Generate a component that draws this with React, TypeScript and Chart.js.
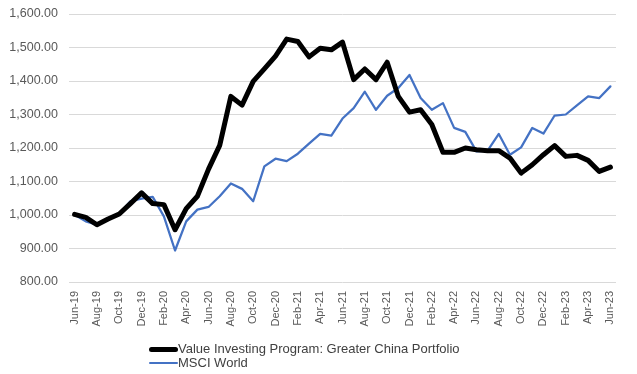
import React, { useEffect, useRef } from "react";
import { Chart, registerables } from "chart.js";

Chart.register(...registerables);

const months: string[] = [
  "Jun-19","Jul-19","Aug-19","Sep-19","Oct-19","Nov-19","Dec-19",
  "Jan-20","Feb-20","Mar-20","Apr-20","May-20","Jun-20","Jul-20","Aug-20","Sep-20","Oct-20","Nov-20","Dec-20",
  "Jan-21","Feb-21","Mar-21","Apr-21","May-21","Jun-21","Jul-21","Aug-21","Sep-21","Oct-21","Nov-21","Dec-21",
  "Jan-22","Feb-22","Mar-22","Apr-22","May-22","Jun-22","Jul-22","Aug-22","Sep-22","Oct-22","Nov-22","Dec-22",
  "Jan-23","Feb-23","Mar-23","Apr-23","May-23","Jun-23",
];

const portfolioLabel = "Value Investing Program: Greater China Portfolio";
const portfolio: number[] = [
  1002, 993, 971, 988, 1003, 1034, 1066,
  1034, 1031, 956, 1019, 1056, 1137, 1208, 1354, 1328, 1399, 1436, 1474,
  1525, 1518, 1472, 1498, 1493, 1516, 1404, 1436, 1404, 1456, 1354, 1307,
  1314, 1270, 1187, 1187, 1200, 1195, 1192, 1192, 1170, 1125, 1150, 1180,
  1207, 1175, 1178, 1163, 1130, 1143,
];

const msciLabel = "MSCI World";
const msci: number[] = [
  1001, 981, 971, 986, 1003, 1041, 1049,
  1054, 996, 894, 981, 1016, 1024, 1056, 1094, 1078, 1041, 1145, 1168,
  1161, 1183, 1213, 1242, 1237, 1288, 1319, 1368, 1314, 1356, 1379, 1418,
  1349, 1314, 1334, 1260, 1248, 1190, 1192, 1242, 1180, 1202, 1260, 1243,
  1297, 1300, 1327, 1354, 1349, 1384,
];

const yMin = 800;
const yMax = 1600;
const yStep = 100;

export default function App() {
  const ref = useRef<HTMLCanvasElement | null>(null);

  useEffect(() => {
    if (!ref.current) return;
    const chart = new Chart(ref.current, {
      type: "line",
      data: {
        labels: months,
        datasets: [
          {
            label: portfolioLabel,
            data: portfolio,
            borderColor: "#000000",
            backgroundColor: "#000000",
            borderWidth: 5,
            pointRadius: 0,
            tension: 0,
            borderJoinStyle: "round",
            borderCapStyle: "round",
          },
          {
            label: msciLabel,
            data: msci,
            borderColor: "#4472C4",
            backgroundColor: "#4472C4",
            borderWidth: 2.25,
            pointRadius: 0,
            tension: 0,
            borderJoinStyle: "round",
            borderCapStyle: "round",
          },
        ],
      },
      options: {
        animation: false,
        responsive: false,
        maintainAspectRatio: false,
        layout: { padding: { left: 0, right: 21, top: 14, bottom: 0 } },
        plugins: {
          legend: { display: false },
          tooltip: { enabled: false },
        },
        scales: {
          x: {
            offset: true,
            grid: { display: false, drawTicks: false },
            border: { display: false },
            ticks: {
              autoSkip: false,
              maxRotation: 90,
              minRotation: 90,
              padding: 9,
              color: "#595959",
              font: { family: '"Liberation Sans"', size: 11 },
              callback: (_v: any, i: number) => (i % 2 === 0 ? months[i] : ""),
            },
            afterFit: (s: any) => {
              s.height = 92;
              s.paddingLeft = 0;
              s.paddingRight = 0;
            },
          },
          y: {
            min: yMin,
            max: yMax,
            grid: { color: "#d9d9d9", lineWidth: 1, drawTicks: false },
            border: { display: false },
            ticks: {
              stepSize: yStep,
              padding: 11,
              color: "#595959",
              font: { family: '"Liberation Sans"', size: 12.5 },
              callback: (v: any) =>
                Number(v).toLocaleString("en-US", { minimumFractionDigits: 2, maximumFractionDigits: 2 }),
            },
            afterFit: (s: any) => {
              s.width = 69;
              s.paddingTop = 0;
              s.paddingBottom = 0;
            },
          },
        },
      },
    });
    return () => chart.destroy();
  }, []);

  const legendItem = (color: string, h: number, text: string, top: number) => (
    <div style={{ position: "absolute", left: 149, top, height: 14, display: "flex", alignItems: "center" }}>
      <div style={{ width: 29, height: h, background: color, borderRadius: h / 2 }} />
      <span style={{ fontFamily: '"Liberation Sans"', fontSize: 13, color: "#404040", whiteSpace: "nowrap", lineHeight: "14px" }}>
        {text}
      </span>
    </div>
  );

  return (
    <div style={{ position: "absolute", left: 0, top: 0, width: 637, height: 374, background: "#fff", overflow: "hidden" }}>
      <canvas ref={ref} width={637} height={374} style={{ display: "block" }} />
      {legendItem("#000000", 5, portfolioLabel, 342)}
      {legendItem("#4472C4", 2.5, msciLabel, 356)}
    </div>
  );
}
